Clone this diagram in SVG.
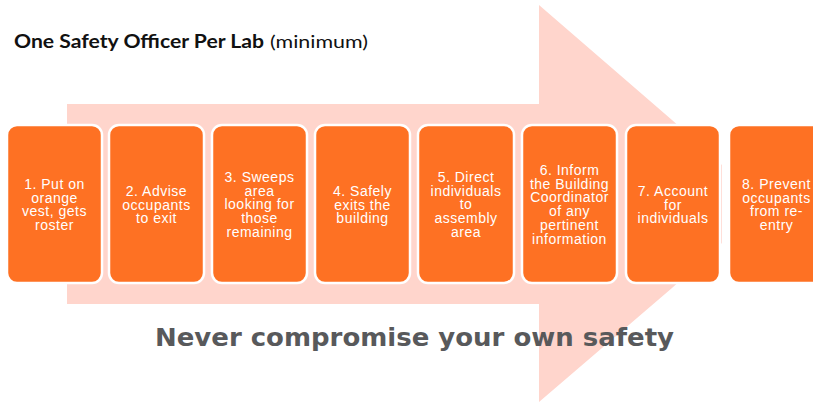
<svg xmlns="http://www.w3.org/2000/svg" width="813" height="402" viewBox="0 0 813 402">
  <style>
    .step { fill: #FE7123; stroke: #FFFFFF; stroke-width: 2.5; }
    .label { font-family: "Liberation Sans", Arial, sans-serif; font-size: 14px; letter-spacing: 0.5px; fill: #FFFFFF; text-anchor: middle; }
    .head { font-family: Lato, "Open Sans", sans-serif; font-size: 18px; fill: #111111; }
    .motto { font-family: "DejaVu Sans", "Open Sans", sans-serif; font-size: 25px; font-weight: bold; fill: #58595B; }
  </style>

  <rect width="813" height="402" fill="#FFFFFF"/>

  <!-- big background arrow; its point is hidden behind the last steps -->
  <polygon id="flow-arrow" points="67,104 539,104 539,5 672,120 722,165 722,243 672,288 539,402 539,304 67,304" fill="#FFD5CC"/>

  <text class="head" x="14" y="47.5" font-weight="bold" textLength="250" lengthAdjust="spacingAndGlyphs">One Safety Officer Per Lab</text>
  <text class="head" x="270" y="47.5" textLength="98" lengthAdjust="spacingAndGlyphs">(minimum)</text>

  <g id="step1">
    <rect class="step" x="7" y="125" width="95" height="158" rx="10"/>
    <text class="label" x="54.5" y="189"><tspan x="54.5">1. Put on</tspan><tspan x="54.5" dy="13.7">orange</tspan><tspan x="54.5" dy="13.7">vest, gets</tspan><tspan x="54.5" dy="13.7">roster</tspan></text>
  </g>
  <g id="step2">
    <rect class="step" x="109" y="125" width="95" height="158" rx="10"/>
    <text class="label" x="156.5" y="196"><tspan x="156.5">2. Advise</tspan><tspan x="156.5" dy="13.7">occupants</tspan><tspan x="156.5" dy="13.7">to exit</tspan></text>
  </g>
  <g id="step3">
    <rect class="step" x="212" y="125" width="95" height="158" rx="10"/>
    <text class="label" x="259.5" y="182"><tspan x="259.5">3. Sweeps</tspan><tspan x="259.5" dy="13.7">area</tspan><tspan x="259.5" dy="13.7">looking for</tspan><tspan x="259.5" dy="13.7">those</tspan><tspan x="259.5" dy="13.7">remaining</tspan></text>
  </g>
  <g id="step4">
    <rect class="step" x="315" y="125" width="95" height="158" rx="10"/>
    <text class="label" x="362.5" y="196"><tspan x="362.5">4. Safely</tspan><tspan x="362.5" dy="13.7">exits the</tspan><tspan x="362.5" dy="13.7">building</tspan></text>
  </g>
  <g id="step5">
    <rect class="step" x="418" y="125" width="96" height="158" rx="10"/>
    <text class="label" x="466" y="182"><tspan x="466">5. Direct</tspan><tspan x="466" dy="13.7">individuals</tspan><tspan x="466" dy="13.7">to</tspan><tspan x="466" dy="13.7">assembly</tspan><tspan x="466" dy="13.7">area</tspan></text>
  </g>
  <g id="step6">
    <rect class="step" x="522" y="125" width="95" height="158" rx="10"/>
    <text class="label" x="569.5" y="175"><tspan x="569.5">6. Inform</tspan><tspan x="569.5" dy="13.7">the Building</tspan><tspan x="569.5" dy="13.7">Coordinator</tspan><tspan x="569.5" dy="13.7">of any</tspan><tspan x="569.5" dy="13.7">pertinent</tspan><tspan x="569.5" dy="13.7">information</tspan></text>
  </g>
  <g id="step7">
    <rect class="step" x="626" y="125" width="94" height="158" rx="10"/>
    <text class="label" x="673" y="196"><tspan x="673">7. Account</tspan><tspan x="673" dy="13.7">for</tspan><tspan x="673" dy="13.7">individuals</tspan></text>
  </g>
  <g id="step8">
    <rect class="step" x="729" y="125" width="95" height="158" rx="10"/>
    <text class="label" x="776.5" y="189"><tspan x="776.5">8. Prevent</tspan><tspan x="776.5" dy="13.7">occupants</tspan><tspan x="776.5" dy="13.7">from re-</tspan><tspan x="776.5" dy="13.7">entry</tspan></text>
  </g>

  <g id="connectors"></g>

  <text class="motto" x="155" y="346" textLength="519" lengthAdjust="spacingAndGlyphs">Never compromise your own safety</text>
</svg>
